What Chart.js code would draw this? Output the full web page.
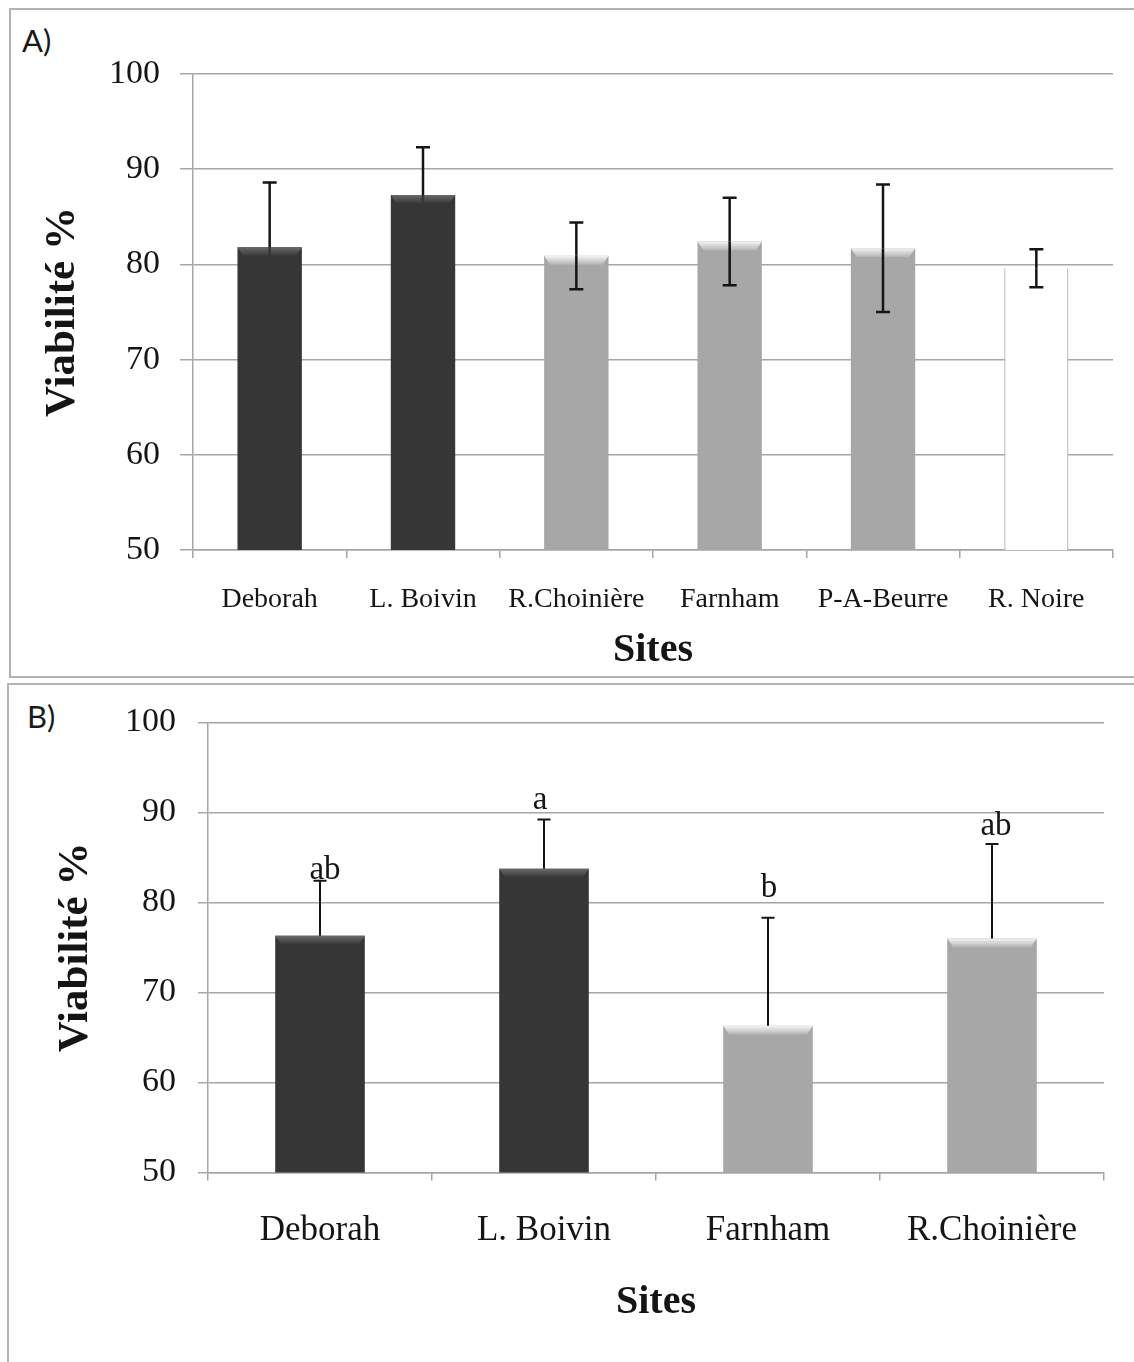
<!DOCTYPE html>
<html>
<head>
<meta charset="utf-8">
<script src="https://cdn.jsdelivr.net/npm/chart.js@4.4.1/dist/chart.umd.min.js"></script>
<style>
  html, body { margin: 0; padding: 0; background: #fff; width: 1134px; height: 1362px; overflow: hidden; }
  body { position: relative; }
  .frame { position: absolute; border: 2px solid #b2b2b2; box-sizing: border-box; }
  #frameA { left: 9px; top: 8px; width: 1140px; height: 670px; }
  #frameB { left: 7px; top: 683px; width: 1140px; height: 720px; }
  .tag { position: absolute; font-family: Lato, "Open Sans", sans-serif; font-size: 31px; line-height: 1; color: #1a1a1a; }
  #tagA { left: 22px; top: 25px; }
  #tagB { left: 27px; top: 701px; }
  canvas { position: absolute; left: 0; }
  #chartA { top: 0; }
  #chartB { top: 680px; }
</style>
</head>
<body>
<div class="frame" id="frameA"></div>
<div class="frame" id="frameB"></div>
<div class="tag" id="tagA">A)</div>
<div class="tag" id="tagB">B)</div>
<canvas id="chartA" width="1134" height="680"></canvas>
<canvas id="chartB" width="1134" height="682"></canvas>
<script>
// ---- data ----
const sitesA = ['Deborah', 'L. Boivin', 'R.Choinière', 'Farnham', 'P-A-Beurre', 'R. Noire'];
const meanA  = [81.8, 87.3, 80.9, 82.4, 81.7, 79.6];
const errA   = [6.8, 5.0, 3.5, 4.6, 6.7, 2.0];

const sitesB   = ['Deborah', 'L. Boivin', 'Farnham', 'R.Choinière'];
const meanB    = [76.3, 83.75, 66.3, 76.0];
const errB     = [6.1, 5.45, 12.0, 10.5];
const lettersB = ['ab', 'a', 'b', 'ab'];

const yTicks = [50, 60, 70, 80, 90, 100];

// ---- styles ----
const SERIF = '"Liberation Serif", "Times New Roman", Times, serif';
const INK = '#151515';
const GRID = '#a6a6a6';
const DARK = '#363636';
const GRAY = '#a7a7a7';
const WHITE = '#ffffff';
const bevelDark = ['#6a6a6a', '#363636'];
const bevelGray = ['#f4f4f4', '#b2b2b2'];

// lighter slanted band along the top edge of each bar
const bevelPlugin = {
  id: 'bevel',
  afterDatasetsDraw(chart) {
    const ctx = chart.ctx;
    const ds = chart.data.datasets[0];
    chart.getDatasetMeta(0).data.forEach((bar, i) => {
      const shade = ds.bevel[i];
      if (!shade) return;
      const { x, y, width } = bar.getProps(['x', 'y', 'width'], true);
      const l = x - width / 2, r = x + width / 2, d = 9, inset = 6;
      const g = ctx.createLinearGradient(0, y, 0, y + d);
      g.addColorStop(0, shade[0]);
      g.addColorStop(1, shade[1]);
      ctx.save();
      ctx.fillStyle = g;
      ctx.beginPath();
      ctx.moveTo(l, y);
      ctx.lineTo(r, y);
      ctx.lineTo(r - inset, y + d);
      ctx.lineTo(l + inset, y + d);
      ctx.closePath();
      ctx.fill();
      ctx.restore();
    });
  }
};

// standard-deviation whiskers; the part of a whisker that falls inside a
// dark bar takes the bar's own colour
function errorBarPlugin(errors, upperOnly, lineWidth, capWidth) {
  return {
    id: 'errorBars',
    afterDatasetsDraw(chart) {
      const ctx = chart.ctx, yScale = chart.scales.y;
      const ds = chart.data.datasets[0];
      ctx.save();
      ctx.lineWidth = lineWidth;
      chart.getDatasetMeta(0).data.forEach((bar, i) => {
        const v = ds.data[i], e = errors[i];
        const top = yScale.getPixelForValue(v + e);
        const mid = yScale.getPixelForValue(v);
        const bottom = yScale.getPixelForValue(v - e);
        const x = bar.x;
        ctx.strokeStyle = INK;
        ctx.beginPath();
        ctx.moveTo(x, top); ctx.lineTo(x, mid);
        ctx.moveTo(x - capWidth / 2, top); ctx.lineTo(x + capWidth / 2, top);
        ctx.stroke();
        if (!upperOnly) {
          ctx.strokeStyle = ds.backgroundColor[i] === DARK ? DARK : INK;
          ctx.beginPath();
          ctx.moveTo(x, mid); ctx.lineTo(x, bottom);
          ctx.moveTo(x - capWidth / 2, bottom); ctx.lineTo(x + capWidth / 2, bottom);
          ctx.stroke();
        }
      });
      ctx.restore();
    }
  };
}

// significance letters above the whiskers
function letterPlugin(letters, errors, shifts) {
  return {
    id: 'letters',
    afterDatasetsDraw(chart) {
      const ctx = chart.ctx, yScale = chart.scales.y;
      const ds = chart.data.datasets[0];
      ctx.save();
      ctx.fillStyle = INK;
      ctx.font = '33px ' + SERIF;
      ctx.textAlign = 'center';
      ctx.textBaseline = 'alphabetic';
      chart.getDatasetMeta(0).data.forEach((bar, i) => {
        const top = yScale.getPixelForValue(ds.data[i] + errors[i]);
        ctx.fillText(letters[i], bar.x + shifts[i][0], top - shifts[i][1]);
      });
      ctx.restore();
    }
  };
}

function buildOptions(p) {
  return {
    responsive: false,
    animation: false,
    devicePixelRatio: 1,
    layout: { padding: { top: p.padTop, right: p.padRight, left: 0, bottom: 0 } },
    plugins: { legend: { display: false }, tooltip: { enabled: false } },
    scales: {
      x: {
        z: p.xOnTop ? 1 : 0,
        grid: { display: true, drawOnChartArea: false, drawTicks: true, tickLength: 8, color: GRID, lineWidth: 1.5, offset: true },
        border: { display: true, color: GRID, width: 1.5 },
        ticks: { font: { family: SERIF, size: p.xFont }, color: INK, padding: p.xPad, maxRotation: 0, autoSkip: false },
        title: { display: true, text: 'Sites', color: INK, font: { family: SERIF, size: 40, weight: 'bold' }, padding: { top: 0, bottom: p.sitesPad } },
        afterFit(s) { s.height = p.xHeight; }
      },
      y: {
        min: 50, max: 100,
        afterBuildTicks(s) { s.ticks = yTicks.map(v => ({ value: v })); },
        grid: { color: GRID, lineWidth: 1.5, drawTicks: true, tickLength: p.yTick },
        border: { display: true, color: GRID, width: 1.5 },
        ticks: { font: { family: SERIF, size: 34 }, color: INK, padding: p.yPad },
        title: { display: true, text: 'Viabilité %', color: INK, font: { family: SERIF, size: 43, weight: 'bold' }, padding: { top: p.titlePad, bottom: 0 } },
        afterFit(s) { s.width = p.yWidth; }
      }
    }
  };
}

new Chart(document.getElementById('chartA'), {
  type: 'bar',
  data: {
    labels: sitesA,
    datasets: [{
      data: meanA,
      backgroundColor: [DARK, DARK, GRAY, GRAY, GRAY, WHITE],
      borderColor: [DARK, DARK, GRAY, GRAY, GRAY, '#c4c4c4'],
      borderWidth: [0, 0, 0, 0, 0, { left: 1.5, right: 1.5, top: 0, bottom: 0 }],
      borderSkipped: false,
      bevel: [bevelDark, bevelDark, bevelGray, bevelGray, bevelGray, null],
      barPercentage: 0.42,
      categoryPercentage: 1
    }]
  },
  options: buildOptions({ padTop: 74, padRight: 21, xFont: 28, xPad: 25, sitesPad: 5, xHeight: 130,
                          yTick: 13, yPad: 20, titlePad: 37, yWidth: 193, xOnTop: false }),
  plugins: [bevelPlugin, errorBarPlugin(errA, false, 2.5, 14)]
});

new Chart(document.getElementById('chartB'), {
  type: 'bar',
  data: {
    labels: sitesB,
    datasets: [{
      data: meanB,
      backgroundColor: [DARK, DARK, GRAY, GRAY],
      borderWidth: 0,
      bevel: [bevelDark, bevelDark, bevelGray, bevelGray],
      barPercentage: 0.4,
      categoryPercentage: 1
    }]
  },
  options: buildOptions({ padTop: 39.5, padRight: 30, xFont: 35, xPad: 29, sitesPad: 35, xHeight: 189.5,
                          yTick: 10, yPad: 22, titlePad: 50, yWidth: 208, xOnTop: true }),
  plugins: [bevelPlugin, errorBarPlugin(errB, true, 2, 13),
            letterPlugin(lettersB, errB, [[5, 2], [-4, 11], [1, 21], [4, 9]])]
});
</script>
</body>
</html>
